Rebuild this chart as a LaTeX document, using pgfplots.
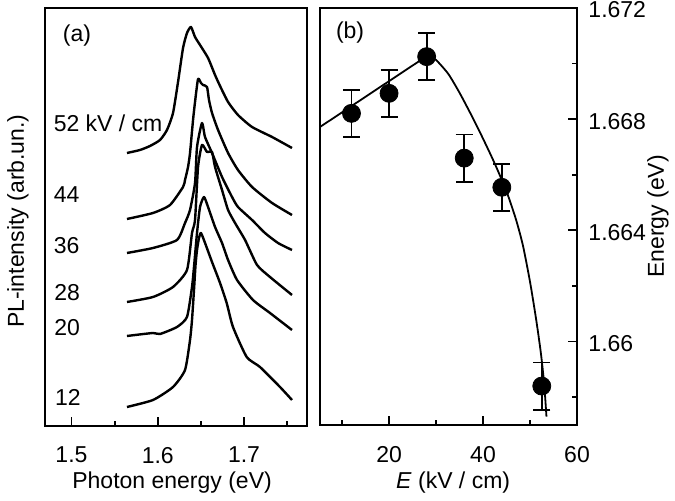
\documentclass[border=0pt]{standalone}
\usepackage{pgfplots}
\pgfplotsset{compat=1.18}
\usepackage{fontspec}
\setmainfont{Liberation Sans}
\begin{document}
\fontsize{11.5}{13.8}\selectfont
\begin{tikzpicture}
\path[use as bounding box] (0,0) rectangle (337.5pt,250.5pt);
\pgfplotsset{
  every axis/.append style={
    scale only axis,
    tick align=inside,
    major tick length=4.5pt, minor tick length=2.5pt,
    every tick/.style={black, line width=0.9pt},
    axis line style={line width=1pt},
  },
  spec/.style={black, solid, no markers, line width=1.2pt, line join=round, smooth, tension=0.35},
}
% ---------------- panel (a) ----------------
\begin{axis}[
  at={(22.5pt,37.5pt)}, anchor=south west,
  width=131pt, height=209pt,
  xmin=1.4693, xmax=1.773, ymin=0, ymax=418,
  xtick={1.5,1.6,1.7}, xticklabels={1.5,1.6,1.7},
  minor xtick={1.55,1.65,1.75},
  ytick=\empty,
  xtick pos=left,
  xticklabel style={yshift=-6.5pt},
  xlabel={Photon energy (eV)},
  xlabel style={at={(axis description cs:0.485,-0.136)}, anchor=center},
  ylabel={PL-intensity (arb.un.)},
  ylabel style={at={(axis description cs:-0.103,0.49)}, anchor=center},
]
% 52 kV/cm
\addplot[spec] table {
1.5643 273
1.5794 276
1.5910 280
1.6026 286
1.6107 296
1.6177 313
1.6235 344
1.6293 378
1.6339 393
1.6385 399
1.6432 389
1.6490 381
1.6583 368
1.6664 351
1.6722 340
1.6815 324
1.6930 311
1.7093 299
1.7325 289
1.7556 278
};
% 44
\addplot[spec] table {
1.5643 207
1.5945 213
1.6142 221
1.6293 239
1.6316 246
1.6351 259
1.6374 273
1.6409 306
1.6432 324
1.6467 347
1.6501 343
1.6525 341
1.6571 339
1.6594 326
1.6629 313
1.6699 296
1.6815 273
1.6930 256
1.7093 239
1.7325 223
1.7556 211
};
% 36
\addplot[spec] table {
1.5643 173
1.5945 178
1.6223 186
1.6316 203
1.6374 216
1.6432 243
1.6455 279
1.6513 303
1.6548 289
1.6629 273
1.6745 249
1.6861 229
1.6930 219
1.7093 206
1.7243 193
1.7394 183
1.7556 176
};
% 28
\addplot[spec] table {
1.5643 124
1.5945 129
1.6177 139
1.6339 156
1.6397 193
1.6432 206
1.6467 259
1.6513 281
1.6571 274
1.6629 274
1.6664 259
1.6745 236
1.6815 216
1.6896 203
1.7012 186
1.7151 161
1.7301 149
1.7556 131
};
% 20
\addplot[spec] table {
1.5643 90
1.5945 93
1.6026 92
1.6223 99
1.6339 109
1.6397 139
1.6420 159
1.6455 193
1.6490 219
1.6536 229
1.6583 219
1.6664 199
1.6745 183
1.6815 166
1.6919 146
1.7104 126
1.7301 113
1.7556 96
};
% 12
\addplot[spec] table {
1.5643 19
1.5945 26
1.6177 39
1.6316 56
1.6374 86
1.6397 106
1.6420 136
1.6438 161
1.6455 176
1.6478 188
1.6501 193
1.6548 183
1.6629 164
1.6722 143
1.6799 123
1.6872 99
1.7031 69
1.7185 59
1.7417 39
1.7556 26
};
\node[anchor=west, inner sep=0pt] at (axis cs:1.4790,303) {52 kV / cm};
\node[anchor=west, inner sep=0pt] at (axis cs:1.4790,231) {44};
\node[anchor=west, inner sep=0pt] at (axis cs:1.4790,180) {36};
\node[anchor=west, inner sep=0pt] at (axis cs:1.4797,133) {28};
\node[anchor=west, inner sep=0pt] at (axis cs:1.4797,98) {20};
\node[anchor=west, inner sep=0pt] at (axis cs:1.4805,29) {12};
\node[anchor=center] at (axis description cs:0.122,0.935) {(a)};
\end{axis}
% ---------------- panel (b) ----------------
\begin{axis}[
  at={(160pt,38pt)}, anchor=south west,
  width=128.5pt, height=208.5pt,
  xmin=5.3, xmax=60, ymin=1.657, ymax=1.672,
  xtick={20,40,60}, xticklabels={20,40,60},
  minor xtick={10,30,50},
  ytick={1.66,1.664,1.668,1.672}, yticklabels={1.66,1.664,1.668,1.672},
  minor ytick={1.658,1.662,1.666,1.670},
  xtick pos=left, ytick pos=right, yticklabel pos=right,
  xticklabel style={yshift=-6.5pt},
  yticklabel style={xshift=1.7pt, yshift=-1pt},
  xlabel={\textit{E} (kV / cm)},
  xlabel style={at={(axis description cs:0.518,-0.139)}, anchor=center},
  ylabel={Energy (eV)},
  ylabel style={at={(axis description cs:1.315,0.5)}, anchor=center},
]
\addplot[black, solid, no markers, line width=0.9pt, line join=round] table {
5.3 1.66772
28.3 1.67030
};
\addplot[black, solid, no markers, line width=0.9pt, line join=round, smooth, tension=0.4] table {
28.3 1.67030
30.0 1.67013
32.6 1.66963
35.0 1.66895
37.5 1.66815
40.0 1.66730
42.5 1.66640
45.0 1.66540
47.0 1.66440
48.5 1.66345
50.0 1.66215
51.3 1.66080
52.3 1.65960
53.0 1.65850
53.5 1.65730
};
\addplot[black, only marks, mark=*, mark size=4.5pt,
  error bars/.cd, y dir=both, y explicit,
  error bar style={line width=0.9pt, black},
  error mark=-,
  error mark options={rotate=90, mark size=4.25pt, line width=0.9pt, black}]
  table[x=x, y=y, y error=e] {
x y e
12 1.66821 0.00085
20 1.66893 0.00085
28 1.67025 0.00085
36 1.66660 0.00085
44 1.66555 0.00085
52.5 1.65840 0.00085
};
\node[anchor=center] at (axis description cs:0.117,0.942) {(b)};
\end{axis}
\end{tikzpicture}
\end{document}
